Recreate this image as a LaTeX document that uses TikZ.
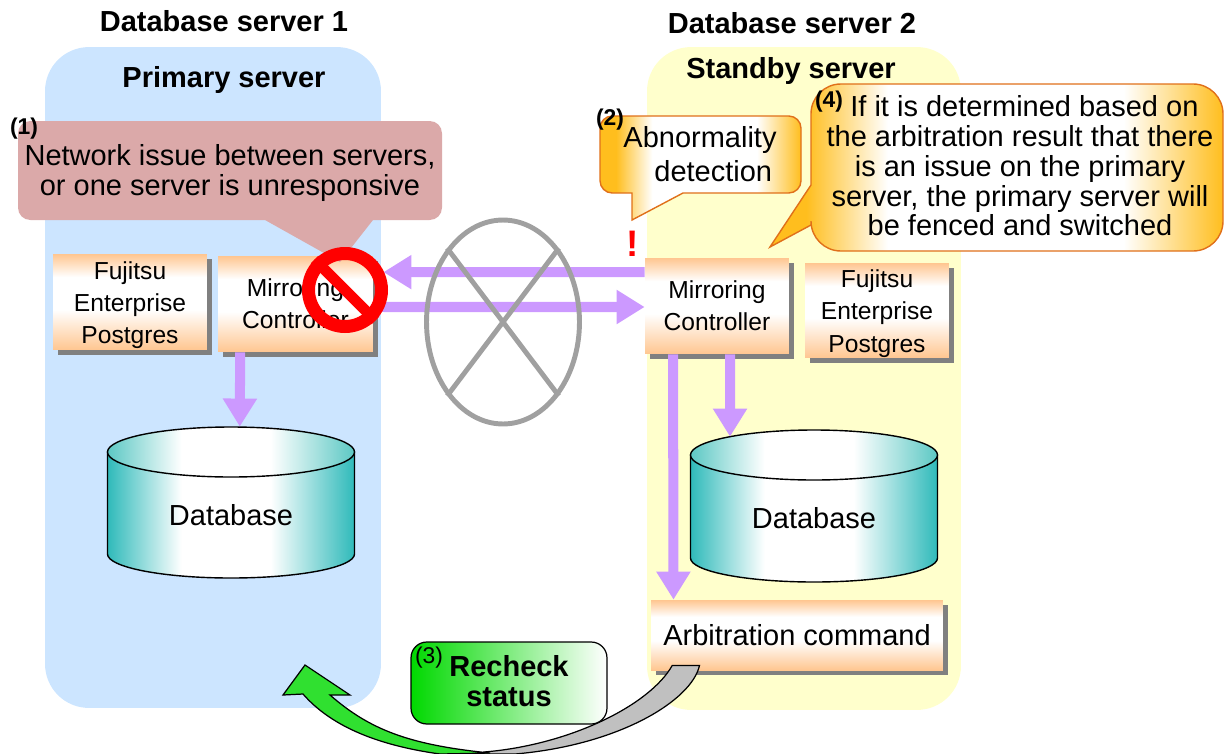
\documentclass[tikz,border=0pt]{standalone}
\usepackage{fontspec}
\setmainfont{Liberation Sans}
\usetikzlibrary{arrows.meta,shadows,shapes.geometric}

\definecolor{panelblue}{HTML}{CCE5FF}
\definecolor{panelyellow}{HTML}{FFFFCC}
\definecolor{boxpeach}{HTML}{FFC690}
\definecolor{flowpurple}{HTML}{CC99FF}
\definecolor{noterose}{HTML}{DBA9A9}
\definecolor{noteorange}{HTML}{FFBE1E}
\definecolor{noteedge}{HTML}{E0701A}
\definecolor{canteal}{HTML}{2FBABA}
\definecolor{cantop}{HTML}{5CC8C4}
\definecolor{ringgray}{HTML}{A0A0A0}
\definecolor{bentgray}{HTML}{C0C0C0}
\definecolor{bentgreen}{HTML}{30E030}

\pgfdeclareverticalshading{boxshade}{100bp}{color(0bp)=(boxpeach); color(25bp)=(boxpeach); color(46bp)=(white); color(63bp)=(white); color(75bp)=(boxpeach); color(100bp)=(boxpeach)}
\pgfdeclarehorizontalshading{canshade}{100bp}{color(0bp)=(canteal); color(25bp)=(canteal); color(40bp)=(white); color(58bp)=(white); color(75bp)=(canteal); color(100bp)=(canteal)}
\pgfdeclarehorizontalshading{cantopshade}{100bp}{color(0bp)=(cantop); color(25bp)=(cantop); color(40bp)=(white); color(58bp)=(white); color(75bp)=(cantop); color(100bp)=(cantop)}
\pgfdeclarehorizontalshading{noteshade}{100bp}{color(0bp)=(noteorange); color(29bp)=(noteorange); color(38bp)=(white); color(64bp)=(white); color(75bp)=(noteorange); color(100bp)=(noteorange)}

\tikzset{
  big/.style={font=\fontsize{16.5}{16.9}\selectfont,align=center,inner sep=0pt},
  bigbold/.style={font=\fontsize{16.5}{16.9}\selectfont\bfseries,align=center,inner sep=0pt},
  tag/.style={font=\fontsize{13}{13}\selectfont\bfseries,inner sep=0pt},
  panel/.style={rectangle,rounded corners=25pt,inner sep=0pt},
  box/.style={rectangle,shading=boxshade,inner sep=0pt,align=center,
    font=\fontsize{14}{18.4}\selectfont,
    drop shadow={shadow xshift=2.9pt,shadow yshift=-2.9pt,fill=gray,opacity=1}},
  flow/.style={line width=5.7pt,color=flowpurple,
    -{Triangle[length=16pt,width=18.5pt]},shorten >=0pt},
  cross/.style={line width=2.8pt,color=ringgray},
  bent/.style={draw=black,line width=0.7pt,line join=miter}
}

% can body and lid behind the named text node
\newcommand{\dbcan}[5]{
  \path[draw=black,line width=0.8pt,shading=canshade] (#2-123.5,-#3) -- (#2-123.5,-#4)
    arc[x radius=123.5,y radius=24,start angle=180,end angle=360] -- (#2+123.5,-#3) -- cycle;
  \path[draw=black,line width=0.8pt,shading=cantopshade] (#2,-#3) ellipse[x radius=123.5,y radius=25];
  \node [big,minimum width=4.94cm,minimum height=#5*0.02cm] (#1) at (#2,-#3-#5/2+25) {Database};
}

\begin{document}
\begin{tikzpicture}[x=0.02cm,y=0.02cm]
  \useasboundingbox (0,0) rectangle (1224,-754);

  \node [panel,fill=panelblue,minimum width=6.72cm,minimum height=13.22cm] (panelOne) at (213,-377.5) {};
  \node [panel,fill=panelyellow,minimum width=6.28cm,minimum height=13.26cm] (panelTwo) at (804,-378.5) {};

  \node [bigbold] (titleOne) at (224,-21) {Database server 1};
  \node [bigbold] (titleTwo) at (792,-23) {Database server 2};
  \node [bigbold] (roleOne) at (224,-80) {Primary server};
  \node [bigbold] (roleTwo) at (791,-71) {Standby server};

  \node [box,minimum width=3.08cm,minimum height=1.92cm] (fujiOne) at (130,-302) {\rule{0pt}{13.6pt}Fujitsu\\Enterprise\\Postgres};
  \node [box,minimum width=3.1cm,minimum height=1.92cm] (mirrorOne) at (295.5,-304) {Mirroring\\Controller};
  \node [box,minimum width=2.88cm,minimum height=1.92cm] (mirrorTwo) at (717,-306) {Mirroring\\Controller};
  \node [box,minimum width=2.88cm,minimum height=1.9cm] (fujiTwo) at (877,-310.5) {\rule{0pt}{13.6pt}Fujitsu\\Enterprise\\Postgres};
  \node [box,minimum width=5.84cm,minimum height=1.4cm,font=\fontsize{16.5}{18}\selectfont] (arbCmd) at (797,-635) {Arbitration command};

  \dbcan{dbOne}{231}{452}{554}{176}
  \dbcan{dbTwo}{814}{455}{558}{176}

  \draw[flow] ([yshift=19.28pt]mirrorTwo.west) -- ([xshift=5.7pt,yshift=18.14pt]mirrorOne.east);
  \draw[flow] ([yshift=-1.7pt]mirrorOne.east) -- ([yshift=-0.57pt]mirrorTwo.west);
  \draw[flow] ([xshift=-31.5pt]mirrorOne.south) -- ([xshift=5pt]dbOne.north);
  \draw[flow] ([xshift=-25pt]mirrorTwo.south) -- ([xshift=-70.3pt]arbCmd.north);
  \draw[flow] ([xshift=7.4pt]mirrorTwo.south) -- ([xshift=-47.8pt,yshift=-4pt]dbTwo.north);

  \node [ellipse,draw=ringgray,line width=2.8pt,minimum width=3.06cm,minimum height=4.08cm,inner sep=0pt] (lostLink) at (503,-322) {};
  \draw[cross] (lostLink.north west) -- (lostLink.south east);
  \draw[cross] (lostLink.north east) -- (lostLink.south west);

  % note 1, its tip runs under the sign
  \path[fill=noterose,rounded corners=7pt] (18,-121) -- (442,-121) -- (442,-220)
    [sharp corners] -- (373,-220) -- (340,-262) -- (265,-220) [rounded corners=7pt] -- (18,-220) -- cycle;
  \node [big] (noteOne) at (230,-173) {Network issue between servers,\\or one server is unresponsive};
  \node [tag] (tagOne) at (24,-129) {(1)};

  \node [circle,draw=red,line width=7.4pt,minimum size=1.46cm,inner sep=0pt] (noSign) at (345,-290) {};
  \draw[red,line width=6.2pt] (noSign.north west) -- (noSign.south east);

  % note 2
  \path[draw=noteedge,line width=0.8pt,shading=noteshade,rounded corners=7pt] (600,-116) -- (801,-116) -- (801,-193)
    [sharp corners] -- (683,-193) -- (632,-220) -- (632,-193) [rounded corners=7pt] -- (600,-193) -- cycle;
  \node [big,align=left] (noteTwo) at (700,-154) {Abnormality\\[2.5pt]\hspace*{17.6pt}detection};
  \node [tag] (tagTwo) at (610,-120) {(2)};
  \node [font=\fontsize{21}{21}\selectfont\bfseries,text=red,inner sep=0pt] (alertMark) at (633,-244) {!};

  % note 4
  \path[draw=noteedge,line width=0.8pt,shading=noteshade,rounded corners=17pt] (811,-84) -- (1223,-84) -- (1223,-251)
    -- (811,-251) [sharp corners] -- (811,-225) -- (770,-247) -- (811,-185) [rounded corners=17pt] -- cycle;
  \node [big] (noteFour) at (1020,-166) {\hspace*{5pt}If it is determined based on\\the arbitration result that there\\is an issue on the primary\\server, the primary server will\\be fenced and switched};
  \node [tag] (tagFour) at (829,-102) {(4)};

  % bent arrow back to the primary server
  \path[bent,fill=bentgray] ([xshift=-71pt,yshift=2.8pt]arbCmd.south) -- ([xshift=-55.5pt,yshift=2.8pt]arbCmd.south)
    .. controls (692,-700) and (620,-745) .. (515,-754) -- (484,-754) -- (484,-752) .. controls (570,-745) and (650,-705) .. ([xshift=-71pt,yshift=2.8pt]arbCmd.south) -- cycle;
  \path[bent,fill=bentgreen] (305,-665) -- (350,-695) -- (330,-695) .. controls (370,-730) and (410,-745) .. (490,-753)
    -- (440,-754) .. controls (375,-745) and (330,-725) .. (303,-694) -- (283,-695) -- cycle;

  \node [rectangle,draw=black,line width=0.7pt,rounded corners=9pt,left color=green!85!black,right color=white,minimum width=3.92cm,minimum height=1.64cm,bigbold] (recheck) at (509,-683) {Recheck\\status\rule[-2.3pt]{0pt}{0pt}};
  \node [tag,font=\fontsize{13}{13}\selectfont] (tagThree) at (429,-658) {(3)};
\end{tikzpicture}
\end{document}
